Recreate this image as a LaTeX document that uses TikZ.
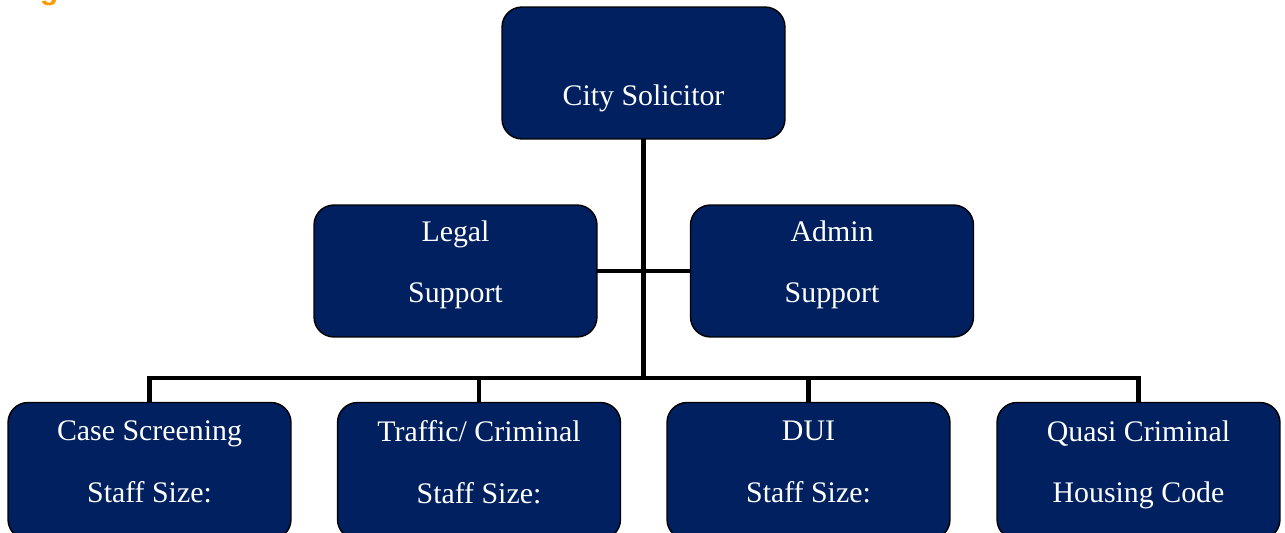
\documentclass[tikz,border=0pt]{standalone}
\usepackage{fontspec}
\setmainfont{Liberation Serif}
\setsansfont{Liberation Sans}
\usepackage{tikz}
\usetikzlibrary{calc}

\definecolor{navy}{HTML}{002060}
\definecolor{titleorange}{HTML}{FF9900}

\tikzset{
  unit/.style={rounded corners=0.4cm, fill=navy, draw=black, line width=0.8pt, minimum width=5.66cm, minimum height=2.64cm, inner sep=0pt},
  unitlabel/.style={text=white, align=center, font=\fontsize{17}{35}\selectfont},
  link/.style={line width=2.8pt}
}

\begin{document}
\begin{tikzpicture}[x=0.02cm, y=-0.02cm]
    \useasboundingbox (0,0) rectangle (1285,533);
    \clip (0,0) rectangle (1285,533);

    \node[anchor=base west, inner sep=0pt, text=titleorange, font=\sffamily\bfseries\fontsize{17}{20}\selectfont] (title) at (5,-0.5) {Organization Chart};

    \coordinate (bus) at (643.5,378);

    \draw[link] (643.5,73) -- (bus);
    \draw[link] (455.5,271) -- (832,271);
    \draw[link] (149.5,471) |- (bus) -| (1138.5,471);
    \draw[link] (479,378) -- (479,471);
    \draw[link] (808.5,378) -- (808.5,471);

    \node[unit] (chief) at (643.5,73) {};
    \node[unitlabel] (chieftxt) at (643.5,98) {City Solicitor};

    \node[unit] (legal) at (455.5,271) {};
    \node[unitlabel] (legaltxt) at (455.5,265) {Legal\\Support};

    \node[unit] (admin) at (832,271) {};
    \node[unitlabel] (admintxt) at (832,265) {Admin\\Support};

    \node[unit, minimum height=2.74cm] (case) at (149.5,471) {};
    \node[unitlabel] (casetxt) at (149.5,462) {Case Screening\\Staff Size:};

    \node[unit, minimum height=2.74cm] (traffic) at (479,471) {};
    \node[unitlabel] (traffictxt) at (479,462) {Traffic/ Criminal\\Staff Size:};

    \node[unit, minimum height=2.74cm] (dui) at (808.5,471) {};
    \node[unitlabel] (duitxt) at (808.5,462) {DUI\\Staff Size:};

    \node[unit, minimum height=2.74cm] (quasi) at (1138.5,471) {};
    \node[unitlabel] (quasitxt) at (1138.5,465) {Quasi Criminal\\Housing Code};
\end{tikzpicture}
\end{document}
